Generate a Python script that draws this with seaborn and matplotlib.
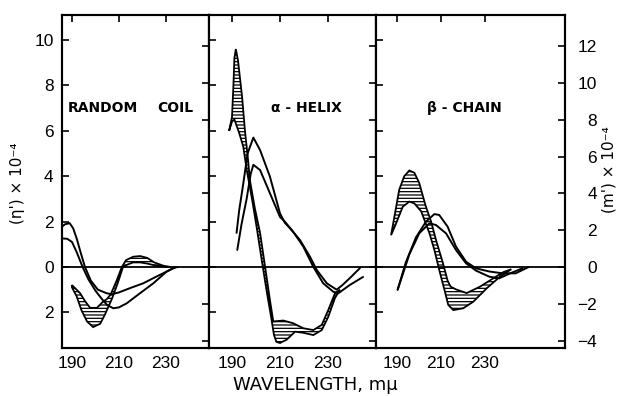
import matplotlib
matplotlib.use("Agg")
import matplotlib.pyplot as plt
import seaborn as sns

# ---- data: wavelength (m-mu) vs [eta'] x 1e-4 (left scale) ----
# random coil
rc_u1_x = [185.7, 187, 189, 190.5, 192, 193.5, 195.5, 198, 201, 204.8, 207, 210, 215, 220.3, 226, 231.7, 234]
rc_u1_y = [1.77, 1.88, 1.93, 1.7, 1.25, 0.7, 0, -0.6, -1.0, -1.16, -1.2, -1.12, -0.92, -0.72, -0.42, -0.13, 0]
rc_u2_x = [185.7, 188, 190, 192, 194.5, 197, 200, 203, 205, 207.6, 210, 213.3, 218.9, 224.6, 230.3, 233, 235]
rc_u2_y = [1.26, 1.24, 1.1, 0.65, 0, -0.55, -1.05, -1.45, -1.68, -1.82, -1.78, -1.6, -1.16, -0.72, -0.2, -0.06, 0]
rc_hi_x = [190, 193.4, 195.5, 197.7, 200.6, 203, 205, 206.5, 209, 211.2, 213, 216, 219, 222, 225, 229, 232]
rc_hi_y = [-0.8, -1.15, -1.5, -1.8, -1.8, -1.55, -1.4, -1.2, -0.6, 0, 0.3, 0.45, 0.48, 0.4, 0.2, 0.05, 0]
rc_lo_x = [190, 192, 194, 196.4, 199, 202, 204, 205.5, 207, 209.5, 211.7, 213.5, 216, 219, 222, 226, 230, 232]
rc_lo_y = [-0.9, -1.3, -1.9, -2.4, -2.65, -2.5, -2.1, -1.75, -1.4, -0.7, 0, 0.1, 0.2, 0.2, 0.15, 0.05, 0, 0]

# alpha helix
ah_u1_x = [191.9, 193, 194.6, 196.5, 198.9, 201.7, 205.8, 210, 212, 214.2, 218.3, 222.5, 225.3, 229.5, 233.6, 236, 239.5, 243.3]
ah_u1_y = [1.5, 2.5, 3.6, 5.0, 5.7, 5.15, 3.98, 2.36, 1.95, 1.7, 1.19, 0.45, -0.13, -0.72, -1.0, -0.8, -0.45, -0.05]
ah_u2_x = [192.2, 194, 196.1, 197.8, 198.9, 201.7, 205.8, 210, 212, 215.5, 219.7, 223.9, 228, 232.2, 234.3, 239, 244.6]
ah_u2_y = [0.75, 1.9, 3.0, 4.1, 4.5, 4.27, 3.25, 2.2, 2.0, 1.55, 0.9, 0, -0.72, -1.09, -1.16, -0.8, -0.44]
ah_hi_x = [188.8, 190.0, 190.6, 191.0, 191.6, 192.5, 194.2, 195.4, 196.7, 197.5, 199.5, 201.7, 203.8, 205.8, 207.2,
           211.4, 215.5, 219.7, 223.9, 227.4, 230.1, 232.9, 235]
ah_hi_y = [6.0, 6.6, 8.0, 9.2, 9.6, 9.1, 7.5, 6.0, 4.7, 3.8, 2.6, 1.5, 0, -1.45, -2.4,
           -2.36, -2.48, -2.7, -2.78, -2.55, -1.9, -1.16, -1.0]
ah_lo_x = [188.8, 190.0, 191.0, 193.0, 194.7, 196.1, 198.5, 200.5, 202.4, 204.5, 206.3, 207.5, 208.5, 210,
           212.8, 216.3, 219.7, 223.9, 227.4, 230.1, 232.9, 235]
ah_lo_y = [6.0, 6.4, 6.5, 5.9, 5.3, 4.3, 2.9, 1.6, 0.3, -1.1, -2.2, -3.0, -3.3, -3.35,
           -3.2, -2.85, -2.9, -3.0, -2.78, -2.2, -1.37, -1.0]

# beta chain
bc_u1_x = [190.3, 194.0, 198.6, 203.2, 207.0, 209.2, 213.0, 216.8, 221.4, 225.9, 232.0, 238.0, 244.0, 248.6, 250]
bc_u1_y = [-1.0, 0.2, 1.3, 2.0, 2.33, 2.29, 1.78, 0.9, 0.23, -0.06, -0.2, -0.28, -0.28, -0.06, 0]
bc_u2_x = [190.3, 195.6, 200.1, 204.7, 207.7, 212.3, 216.8, 221.4, 225.9, 232.0, 236.5, 241.0, 247.0]
bc_u2_y = [-1.0, 0.55, 1.48, 1.92, 1.85, 1.48, 0.75, 0.16, -0.16, -0.43, -0.5, -0.3, -0.06]
bc_hi_x = [187.3, 188.8, 191.0, 193.3, 195.6, 197.9, 200.1, 203.0, 205.5, 207.7, 210.8, 213.0, 214.4,
           217.1, 221.7, 227.7, 233.8, 238.3, 242.0]
bc_hi_y = [1.4, 2.2, 3.4, 4.0, 4.25, 4.15, 3.7, 2.7, 2.0, 1.2, 0.2, -0.6, -0.87,
           -1.0, -1.15, -0.87, -0.5, -0.23, -0.1]
bc_lo_x = [187.3, 189.5, 192.6, 195.6, 197.9, 201.0, 204.7, 207.0, 209.2, 211.8, 213.3, 215.6, 220.1,
           224.7, 230.8, 236.8, 242.0]
bc_lo_y = [1.4, 1.9, 2.65, 2.88, 2.8, 2.45, 1.5, 0.75, -0.13, -1.09, -1.67, -1.9, -1.82,
           -1.53, -0.94, -0.43, -0.1]

x_ticks = [190, 210, 230]
left_ticks = [-2, 0, 2, 4, 6, 8, 10]
left_labels = ["2", "0", "2", "4", "6", "8", "10"]
right_ticks = [-4, -2, 0, 2, 4, 6, 8, 10, 12]
right_labels = ["\u22124", "\u22122", "0", "2", "4", "6", "8", "10", "12"]
scale = 1.2337  # m' units per eta' unit (right axis)

sns.set_style("white")
plt.rcParams['font.family'] = ['Liberation Sans', 'DejaVu Sans']
plt.rcParams['hatch.linewidth'] = 0.9
for key in ('text.color', 'axes.labelcolor', 'xtick.color', 'ytick.color', 'axes.edgecolor'):
    plt.rcParams[key] = 'black'

W, H = 620, 396
fig = plt.figure(figsize=(6.2, 3.96), dpi=100)


def box(x0, x1, y0=15, y1=348):
    return [x0 / W, 1 - y1 / H, (x1 - x0) / W, (y1 - y0) / H]


panels = [
    (box(62, 209), (185.74, 248.3), (rc_u1_x, rc_u1_y), (rc_u2_x, rc_u2_y), (rc_hi_x, rc_hi_y, rc_lo_x, rc_lo_y)),
    (box(209, 376), (180.42, 250.0), (ah_u1_x, ah_u1_y), (ah_u2_x, ah_u2_y), (ah_hi_x, ah_hi_y, ah_lo_x, ah_lo_y)),
    (box(376, 565), (180.45, 266.4), (bc_u1_x, bc_u1_y), (bc_u2_x, bc_u2_y), (bc_hi_x, bc_hi_y, bc_lo_x, bc_lo_y)),
]
ylim = (-3.57, 11.1)

for i, (rect, xlim, c1, c2, bnd) in enumerate(panels):
    ax = fig.add_axes(rect)
    # hatched band
    xh, yh, xl, yl = bnd
    ax.fill(list(xh) + list(xl)[::-1], list(yh) + list(yl)[::-1],
            facecolor='none', edgecolor='black', hatch='-----', lw=1.3, zorder=3)
    # the two plain curves
    for cx, cy in (c1, c2):
        sns.lineplot(x=cx, y=cy, sort=False, estimator=None, color='black', lw=1.4, ax=ax, zorder=4)
    ax.axhline(0, color='black', lw=1.3, zorder=2)
    ax.set_xlim(*xlim)
    ax.set_ylim(*ylim)
    ax.set_xticks(x_ticks)
    ax.set_yticks(left_ticks)
    ax.set_xlabel("")
    ax.set_ylabel("")
    ax.tick_params(direction='in', length=5, width=1.2, top=True, labelsize=12.5, pad=6)
    if i == 0:
        ax.set_yticklabels(left_labels)
    else:
        ax.set_yticklabels([])
    for s in ax.spines.values():
        s.set_linewidth(1.5)
        s.set_color('black')

    ax2 = ax.twinx()
    ax2.set_ylim(ylim[0] * scale, ylim[1] * scale)
    ax2.set_yticks(right_ticks)
    ax2.tick_params(direction='in', length=5, width=1.2, labelsize=12.5, pad=23)
    if i == 2:
        ax2.set_yticklabels(right_labels)
        for lab in ax2.get_yticklabels():
            lab.set_ha('right')
    else:
        ax2.set_yticklabels([])
    ax2.grid(False)
    for s in ax2.spines.values():
        s.set_linewidth(1.5)

title_kw = dict(fontsize=10, family='DejaVu Sans', weight='bold', va='center')
fig.text(68 / W, 1 - 108 / H, "RANDOM", ha='left', **title_kw)
fig.text(157 / W, 1 - 108 / H, "COIL", ha='left', **title_kw)
fig.text(306 / W, 1 - 108 / H, "\u03b1 - HELIX", ha='center', **title_kw)
fig.text(464 / W, 1 - 108 / H, "\u03b2 - CHAIN", ha='center', **title_kw)

fig.text(18 / W, 1 - 183 / H, "(\u03b7') \u00d7 10\u207b\u2074", rotation=90,
         ha='center', va='center', fontsize=11, family=['DejaVu Sans'])
fig.text(609 / W, 1 - 170 / H, "(m') \u00d7 10\u207b\u2074", rotation=90,
         ha='center', va='center', fontsize=11, family=['DejaVu Sans'])
fig.text(315 / W, 1 - 385 / H, "WAVELENGTH, m\u03bc", ha='center', va='center',
         fontsize=13, family='DejaVu Sans')

fig.savefig("out.png", dpi=100)
